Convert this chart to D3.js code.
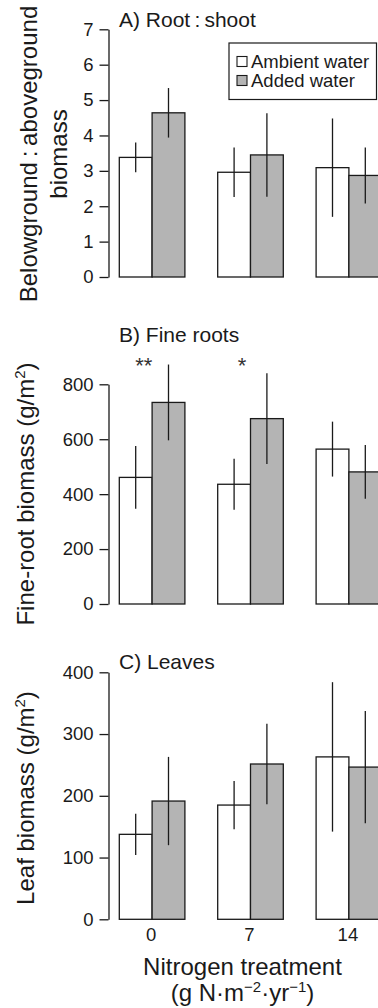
<!DOCTYPE html>
<html>
<head>
<meta charset="utf-8">
<script src="https://cdn.jsdelivr.net/npm/d3@7"></script>
<style>
  html, body { margin: 0; padding: 0; background: #fff; }
  svg { display: block; font-family: "Liberation Sans", Arial, sans-serif; }
</style>
</head>
<body>
<svg id="canvas" width="378" height="1008"></svg>
<script>
// nitrogen levels (g N m-2 yr-1) and water treatments
let nitrogenLevels = ['0', '7', '14']
let waterLevels = ['Ambient water', 'Added water']

// A) root : shoot ratio
let rootShootAmbient = [3.38, 2.96, 3.09]
let rootShootAmbientErr = [0.42, 0.70, 1.39]
let rootShootAdded = [4.64, 3.45, 2.87]
let rootShootAddedErr = [0.70, 1.18, 0.79]
let rootShootTicks = [0, 1, 2, 3, 4, 5, 6, 7]

// B) fine roots (g/m2)
let fineRootAmbient = [461, 436, 564]
let fineRootAmbientErr = [114, 93, 100]
let fineRootAdded = [734, 675, 481]
let fineRootAddedErr = [138, 165, 98]
let fineRootTicks = [0, 200, 400, 600, 800]
let fineRootSignif = ['**', '*', '']

// C) leaves (g/m2)
let leafAmbient = [137.6, 185, 263]
let leafAmbientErr = [33.5, 39, 121]
let leafAdded = [191.5, 251.5, 246.5]
let leafAddedErr = [71.5, 65, 91]
let leafTicks = [0, 100, 200, 300, 400]

let ink = '#1a1a1a'
let fills = {'Ambient water': '#ffffff', 'Added water': '#b4b4b4'}

let canvas = d3.select('#canvas')

let axisX = 108.5

let xGroup = d3.scaleBand()
  .domain(nitrogenLevels)
  .range([119.3, 381.7])
  .paddingInner(1 / 3)
  .paddingOuter(0)

let xWater = d3.scaleBand()
  .domain(waterLevels)
  .range([0, xGroup.bandwidth()])

let toRows = (ambient, ambientErr, added, addedErr) => {
  let rows = []
  nitrogenLevels.forEach((n, i) => {
    rows.push({n: n, water: 'Ambient water', value: ambient[i], err: ambientErr[i]})
    rows.push({n: n, water: 'Added water', value: added[i], err: addedErr[i]})
  })
  return rows
}

let drawPanel = (panel) => {
  let y = d3.scaleLinear()
    .domain([0, panel.ticks[panel.ticks.length - 1]])
    .range([panel.bottom, panel.top])

  let g = canvas.append('g')

  let rows = toRows(panel.ambient, panel.ambientErr, panel.added, panel.addedErr)

  g.selectAll('rect.bar')
    .data(rows)
    .enter()
    .append('rect')
    .attr('class', 'bar')
    .attr('x', (d) => xGroup(d.n) + xWater(d.water))
    .attr('y', (d) => y(d.value))
    .attr('width', xWater.bandwidth())
    .attr('height', (d) => y(0) - y(d.value))
    .attr('fill', (d) => fills[d.water])
    .attr('stroke', ink)
    .attr('stroke-width', 1.3)

  g.selectAll('line.err')
    .data(rows)
    .enter()
    .append('line')
    .attr('class', 'err')
    .attr('x1', (d) => xGroup(d.n) + xWater(d.water) + xWater.bandwidth() / 2)
    .attr('x2', (d) => xGroup(d.n) + xWater(d.water) + xWater.bandwidth() / 2)
    .attr('y1', (d) => y(d.value - d.err))
    .attr('y2', (d) => y(d.value + d.err))
    .attr('stroke', ink)
    .attr('stroke-width', 1.3)

  let axis = g.append('g')
    .attr('transform', 'translate(' + axisX + ',0)')
    .call(d3.axisLeft(y)
      .tickValues(panel.ticks)
      .tickFormat(d3.format('d'))
      .tickSize(9)
      .tickSizeOuter(0)
      .tickPadding(6))
  axis.select('.domain').attr('stroke', ink).attr('stroke-width', 1.3)
  axis.selectAll('.tick line').attr('stroke', ink).attr('stroke-width', 1.3)
  axis.selectAll('.tick text')
    .attr('fill', ink)
    .style('font-size', '18.5px')
    .style('font-family', '"Liberation Sans", Arial, sans-serif')

  // panel title
  g.append('text')
    .attr('x', 119)
    .attr('y', panel.titleY)
    .attr('fill', ink)
    .style('font-size', '21px')
    .text(panel.title)

  // y axis title (rotated)
  let yTitle = g.append('text')
    .attr('transform', 'translate(' + panel.labelX + ',' + panel.labelY + ') rotate(-90)')
    .attr('text-anchor', 'middle')
    .attr('fill', ink)
    .style('font-size', '24px')
  panel.label(yTitle)

  return {g: g, y: y}
}

// A) Root : shoot
let panelA = drawPanel({
  title: 'A) Root\u2009:\u2009shoot', titleY: 26.5,
  top: 29.3, bottom: 277, ticks: rootShootTicks,
  ambient: rootShootAmbient, ambientErr: rootShootAmbientErr,
  added: rootShootAdded, addedErr: rootShootAddedErr,
  labelX: 37, labelY: 154,
  label: (t) => {
    t.append('tspan').attr('x', 0).attr('dy', 0).text('Belowground\u2009:\u2009aboveground')
    t.append('tspan').attr('x', 0).attr('dy', 30).text('biomass')
  }
})

// legend
let legend = canvas.append('g')
legend.append('rect')
  .attr('x', 229).attr('y', 43)
  .attr('width', 147.5).attr('height', 56.5)
  .attr('fill', '#fff').attr('stroke', ink).attr('stroke-width', 1.2)
let legendRows = legend.selectAll('g.item')
  .data(waterLevels)
  .enter()
  .append('g')
  .attr('class', 'item')
  .attr('transform', (d, i) => 'translate(237,' + (56.5 + i * 19) + ')')
legendRows.append('rect')
  .attr('width', 10).attr('height', 10)
  .attr('fill', (d) => fills[d])
  .attr('stroke', ink).attr('stroke-width', 1.1)
legendRows.append('text')
  .attr('x', 14).attr('y', 11)
  .attr('fill', ink)
  .style('font-size', '18.5px')
  .text((d) => d)

// B) Fine roots
let panelB = drawPanel({
  title: 'B) Fine roots', titleY: 342,
  top: 384.3, bottom: 604, ticks: fineRootTicks,
  ambient: fineRootAmbient, ambientErr: fineRootAmbientErr,
  added: fineRootAdded, addedErr: fineRootAddedErr,
  labelX: 34, labelY: 494,
  label: (t) => {
    t.append('tspan').text('Fine-root biomass (g/m')
    t.append('tspan').attr('dy', -9).style('font-size', '15px').text('2')
    t.append('tspan').attr('dy', 9).text(')')
  }
})

panelB.g.selectAll('text.signif')
  .data(fineRootSignif)
  .enter()
  .append('text')
  .attr('class', 'signif')
  .attr('x', (d, i) => xGroup(nitrogenLevels[i]) + xWater.bandwidth() / 2 + 8)
  .attr('y', 373)
  .attr('text-anchor', 'middle')
  .attr('fill', '#333')
  .style('font-size', '22px')
  .text((d) => d)

// C) Leaves
let panelC = drawPanel({
  title: 'C) Leaves', titleY: 669,
  top: 672.3, bottom: 919.3, ticks: leafTicks,
  ambient: leafAmbient, ambientErr: leafAmbientErr,
  added: leafAdded, addedErr: leafAddedErr,
  labelX: 34, labelY: 798,
  label: (t) => {
    t.append('tspan').text('Leaf biomass (g/m')
    t.append('tspan').attr('dy', -9).style('font-size', '15px').text('2')
    t.append('tspan').attr('dy', 9).text(')')
  }
})

// x tick labels
canvas.selectAll('text.xtick')
  .data(nitrogenLevels)
  .enter()
  .append('text')
  .attr('class', 'xtick')
  .attr('x', (d) => xGroup(d) + xGroup.bandwidth() / 2 - 1)
  .attr('y', 941)
  .attr('text-anchor', 'middle')
  .attr('fill', ink)
  .style('font-size', '18.5px')
  .text((d) => d)

// x axis title
canvas.append('text')
  .attr('x', 242.5).attr('y', 975)
  .attr('text-anchor', 'middle')
  .attr('fill', ink)
  .style('font-size', '24px')
  .text('Nitrogen treatment')

let xUnits = canvas.append('text')
  .attr('x', 242.5).attr('y', 1001)
  .attr('text-anchor', 'middle')
  .attr('fill', ink)
  .style('font-size', '24px')
xUnits.append('tspan').text('(g N\u00b7m')
xUnits.append('tspan').attr('dy', -9).style('font-size', '15px').text('\u22122')
xUnits.append('tspan').attr('dy', 9).text('\u00b7yr')
xUnits.append('tspan').attr('dy', -9).style('font-size', '15px').text('\u22121')
xUnits.append('tspan').attr('dy', 9).text(')')
</script>
</body>
</html>
